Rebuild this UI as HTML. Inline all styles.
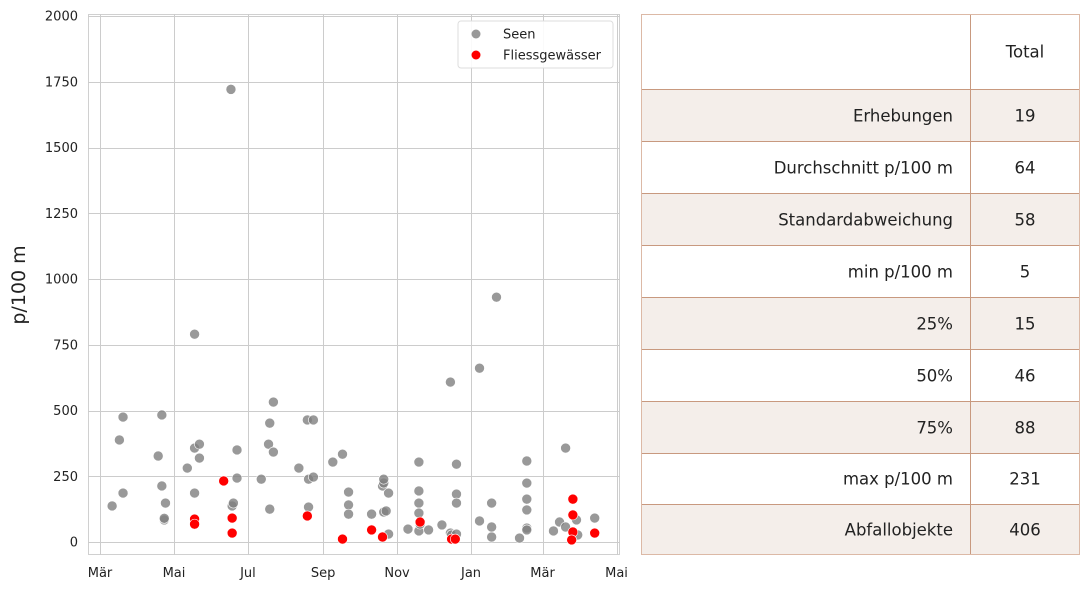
<!DOCTYPE html>
<html><head><meta charset="utf-8">
<style>
body{margin:0;width:1089px;height:589px;background:#fff;font-family:"DejaVu Sans","Liberation Sans",sans-serif;overflow:hidden;position:relative}
#tbl{position:absolute;left:641px;top:14px;width:439px;height:541px;border:1px solid #dcb9a6;box-sizing:border-box}
.row{position:absolute;left:0;width:437px;border-top:1px solid #c8997f;box-sizing:border-box;font-size:16.5px;color:#222}
.row.sh{background:#f4eeea}
.lab{position:absolute;right:126px;top:50%;transform:translateY(-50%)}
.val{position:absolute;left:329px;width:108px;text-align:center;top:50%;transform:translateY(-50%)}
#vline{position:absolute;left:328px;top:0;height:539px;border-left:1px solid #c8997f}
</style></head><body>
<svg id="chart" width="630" height="589" style="position:absolute;left:0;top:0"></svg>
<div id="tbl">
 <div class="row" style="top:0;height:74px;border-top:none"><span class="val">Total</span></div>
 <div class="row sh" style="top:74px;height:52px"><span class="lab">Erhebungen</span><span class="val">19</span></div>
 <div class="row" style="top:126px;height:52px"><span class="lab">Durchschnitt p/100 m</span><span class="val">64</span></div>
 <div class="row sh" style="top:178px;height:52px"><span class="lab">Standardabweichung</span><span class="val">58</span></div>
 <div class="row" style="top:230px;height:52px"><span class="lab">min p/100 m</span><span class="val">5</span></div>
 <div class="row sh" style="top:282px;height:52px"><span class="lab">25%</span><span class="val">15</span></div>
 <div class="row" style="top:334px;height:52px"><span class="lab">50%</span><span class="val">46</span></div>
 <div class="row sh" style="top:386px;height:52px"><span class="lab">75%</span><span class="val">88</span></div>
 <div class="row" style="top:438px;height:51px"><span class="lab">max p/100 m</span><span class="val">231</span></div>
 <div class="row sh" style="top:489px;height:50px"><span class="lab">Abfallobjekte</span><span class="val">406</span></div>
 <div id="vline"></div>
</div>
<script>
const xTickLabels=["Mär","Mai","Jul","Sep","Nov","Jan","Mär","Mai"];
const xTickDays=[0,61,122,184,245,306,365,426];
const yTicks=[0,250,500,750,1000,1250,1500,1750,2000];
const seenDays=[10,16,19,19,48,51,51,53,54,53,72,78,78,78,82,82,108,109,110,113,113,133,139,140,140,143,143,164,171,172,172,176,176,192,200,205,205,205,224,233,234,234,234,236,238,238,254,263,263,263,263,263,264,271,282,289,289,290,294,294,294,294,313,313,323,323,323,327,346,352,352,352,352,352,352,374,379,384,384,393,394,408];
const seenVals=[137,388,475,186,327,483,213,84,148,90,281,790,357,186,372,319,1721,137,148,350,243,239,372,125,452,532,342,281,464,133,239,464,247,304,334,190,141,106,106,213,224,239,114,118,186,30,49,304,194,148,110,42,68,46,65,608,34,27,182,296,148,30,661,80,148,19,57,931,15,308,224,163,122,53,46,42,76,357,57,84,27,91];
const flDays=[102,78,78,109,109,171,200,224,233,264,290,293,390,390,390,389,408];
const flVals=[232,87,68,91,34,99,11,46,19,76,11,11,163,103,38,8,34];
const NS='http://www.w3.org/2000/svg';
const svg=document.getElementById('chart');
const L=88,R=620,T=14,B=555;
const x=d=>100+d*1.2125;
const y=v=>542-v*0.263;
function el(t,a){const e=document.createElementNS(NS,t);for(const k in a)e.setAttribute(k,a[k]);svg.appendChild(e);return e;}
const bg=el('rect',{x:L+0.5,y:T+0.5,width:R-L-1,height:B-T-1,fill:'#fff',stroke:'#d0d0d0'});


yTicks.forEach(v=>{
 const g=el('line',{x1:L,x2:R,y1:Math.round(y(v))+0.5,y2:Math.round(y(v))+0.5,stroke:'#ccc','stroke-width':1});
 
 
 const t=el('text',{x:L-10,y:y(v)+4.5,'text-anchor':'end','font-size':13,fill:'#222'});
 t.textContent=v;
 
 
});
xTickDays.forEach((d,i)=>{
 const g=el('line',{x1:Math.round(x(d))+0.5,x2:Math.round(x(d))+0.5,y1:T,y2:B,stroke:'#ccc','stroke-width':1});
 
 
 const t=el('text',{x:x(d),y:B+22,'text-anchor':'middle','font-size':13,fill:'#222'});
 t.textContent=xTickLabels[i];
 
 
});
const yl=el('text',{x:25,y:285,'text-anchor':'middle','font-size':19,fill:'#222',transform:'rotate(-90 25 285)'});
yl.textContent='p/100 m';


seenDays.forEach((d,i)=>{
 const c=el('circle',{cx:x(d),cy:y(seenVals[i]),r:5,fill:'#808080','fill-opacity':0.8,stroke:'#fff','stroke-width':0.6});
 
 
});
flDays.forEach((d,i)=>{
 const c=el('circle',{cx:x(d),cy:y(flVals[i]),r:5,fill:'#ff0000',stroke:'#fff','stroke-width':0.6});
 
 
});
const lg=el('rect',{x:458,y:21,width:155,height:47,rx:3,fill:'#fff','fill-opacity':0.9,stroke:'#ddd'});


[['Seen','#808080',34],['Fliessgewässer','#ff0000',55]].forEach(([n,c,yy])=>{
 const m=el('circle',{cx:476,cy:yy,r:4.5,fill:c,'fill-opacity':c=='#808080'?0.8:1});
 
 
 const t=el('text',{x:503,y:yy+4.5,'font-size':13,fill:'#222'});
 t.textContent=n;
 
 
});
</script>
</body></html>
